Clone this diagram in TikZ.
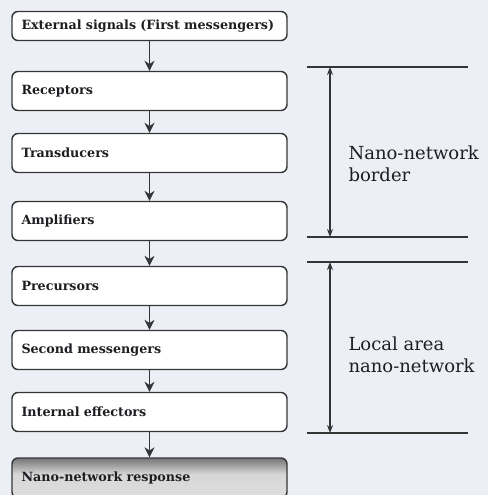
\documentclass[tikz,border=0pt]{standalone}
\usepackage{fontspec}
\setmainfont{DejaVu Serif}
\newfontfamily\labelfont{DejaVu Serif}
\usepackage{tikz}
\usetikzlibrary{positioning,arrows.meta,shapes.geometric,calc}
\definecolor{paperbg}{RGB}{236,240,246}
\definecolor{inkdark}{RGB}{30,30,34}
\colorlet{inkline}{inkdark!90}
\pgfdeclareverticalshading{respshade}{100bp}{color(0bp)=(black!10); color(55bp)=(black!16); color(78bp)=(black!60); color(100bp)=(black!88)}

\begin{document}
\begin{tikzpicture}[x=1pt,y=-1pt,every node/.style={font=\fontsize{12.7}{15}\selectfont\bfseries,text=inkdark},
    stage/.style={draw=inkline,line width=1.4pt,fill=white,rounded corners=6pt,minimum width=275pt,minimum height=39pt,text width=256pt,align=left,inner xsep=9.5pt},
    flow/.style={-{Stealth[length=10pt,width=10pt]},line width=1.4pt,inkline},
    span/.style={{Stealth[length=8pt,width=6pt]}-{Stealth[length=8pt,width=6pt]},line width=1.1pt,inkline},
    side/.style={font=\labelfont\fontsize{18}{22}\selectfont,align=left,anchor=west}]
    \fill[paperbg] (0,0) rectangle (488,495);
    \useasboundingbox (0,0) rectangle (488,495);
    \node[stage,minimum height=29pt] (ext) at (149.5,26) {External signals (First messengers)};
    \node[stage] (rec) at (149.5,91) {Receptors};
    \node[stage] (trans) at (149.5,153) {Transducers};
    \node[stage] (amp) at (149.5,221) {Amplifiers};
    \node[stage] (pre) at (149.5,286) {Precursors};
    \node[stage] (sec) at (149.5,350) {Second messengers};
    \node[stage] (eff) at (149.5,412) {Internal effectors};
    \node[stage,shading=respshade,minimum height=40pt] (resp) at (149.5,478) {Nano-network response};
    \draw[flow] (ext)--(rec);
    \draw[flow] (rec)--(trans);
    \draw[flow] (trans)--(amp);
    \draw[flow] (amp)--(pre);
    \draw[flow] (pre)--(sec);
    \draw[flow] (sec)--(eff);
    \draw[flow] (eff)--(resp);
    % border / local area spans
    \coordinate (b1) at (330,67);
    \coordinate (b2) at (330,237);
    \coordinate (l1) at (330,262);
    \coordinate (l2) at (330,433);
    \draw[line width=1.1pt,inkline] (307,67)--(468,67) (307,237)--(468,237) (307,262)--(468,262) (307,433)--(468,433);
    \draw[span] (b1)--(b2);
    \draw[span] (l1)--(l2);
    \node[side] (bord) at (345,164) {Nano-network\\border};
    \node[side] (local) at (345,355) {Local area\\nano-network};
  \end{tikzpicture}
\end{document}
